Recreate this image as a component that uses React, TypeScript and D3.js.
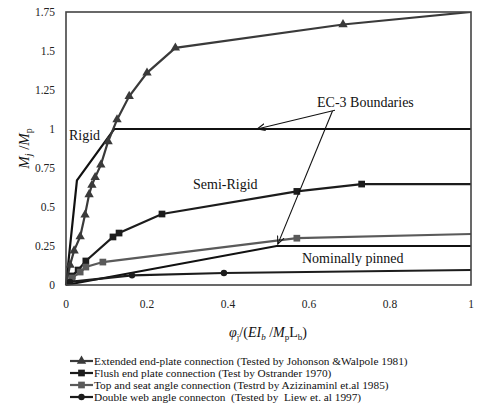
import * as d3 from 'd3'

// rotation phi_j / (EI_b / M_p L_b) and moment ratio M_j / M_p
const extendedPhi = [0, 0.01, 0.02, 0.035, 0.047, 0.057, 0.064, 0.072, 0.086, 0.104, 0.126, 0.156, 0.2, 0.27, 0.684, 1]
const extendedM = [0, 0.128, 0.22, 0.31, 0.45, 0.58, 0.64, 0.69, 0.77, 0.92, 1.06, 1.21, 1.36, 1.52, 1.67, 1.75]

const flushPhi = [0, 0.015, 0.03, 0.049, 0.116, 0.131, 0.237, 0.57, 0.73, 1]
const flushM = [0, 0.058, 0.096, 0.154, 0.308, 0.333, 0.455, 0.6, 0.647, 0.647]

const topSeatPhi = [0, 0.015, 0.035, 0.049, 0.091, 0.57, 1]
const topSeatM = [0, 0.045, 0.083, 0.115, 0.147, 0.3, 0.327]

const webPhi = [0, 0.01, 0.163, 0.39, 1]
const webM = [0, 0.02, 0.062, 0.077, 0.096]

const rigidPhi = [0, 0.027, 0.119, 1]
const rigidM = [0, 0.67, 1, 1]
const pinnedPhi = [0, 0.52, 1]
const pinnedM = [0, 0.25, 0.25]

const xTicks = [0, 0.2, 0.4, 0.6, 0.8, 1]
const yTicks = [0, 0.25, 0.5, 0.75, 1, 1.25, 1.5, 1.75]

const legendLabels = [
  'Extended end-plate connection (Tested by Johonson &Walpole 1981)',
  'Flush end plate connection (Test by Ostrander 1970)',
  'Top and seat angle connection (Testrd by Azizinaminl et.al 1985)',
  'Double web angle connecton  (Tested by  Liew et. al 1997)',
]

const W = 477
const H = 417
const x = d3.scaleLinear().domain([0, 1]).range([66, 471])
const y = d3.scaleLinear().domain([0, 1.75]).range([285, 12])

const tf = { fontFamily: '"Liberation Serif"', whiteSpace: 'pre' as const }

const series = [
  { phi: extendedPhi, m: extendedM, color: '#3a3a3a', marker: 'triangle' },
  { phi: flushPhi, m: flushM, color: '#1c1c1c', marker: 'square' },
  { phi: topSeatPhi, m: topSeatM, color: '#5a5a5a', marker: 'square' },
  { phi: webPhi, m: webM, color: '#1c1c1c', marker: 'circle' },
]

const toPts = (a: number[], b: number[]) => a.map((v, i) => [v, b[i]] as [number, number])
const line = d3.line<[number, number]>().x(d => x(d[0])).y(d => y(d[1]))

const symbolPath = (kind: string) => {
  const t = kind === 'triangle' ? d3.symbolTriangle : kind === 'square' ? d3.symbolSquare : d3.symbolCircle
  const size = kind === 'circle' ? 32 : kind === 'square' ? 45 : 38
  return d3.symbol().type(t).size(size)() as string
}

const Marker = ({ kind, cx, cy, color }: { kind: string; cx: number; cy: number; color: string }) => (
  <path d={symbolPath(kind)} transform={`translate(${cx},${cy})`} fill={color} />
)

export default function App() {
  return (
    <svg width={W} height={H} style={{ position: 'absolute', left: 0, top: 0, background: '#fff' }}>
      <defs>
        <marker id="arr" viewBox="0 0 10 10" refX="9" refY="5" markerWidth="8" markerHeight="8" orient="auto">
          <path d="M0,1 L9,5 L0,9" fill="none" stroke="#111" strokeWidth="1.2" />
        </marker>
        <clipPath id="plot">
          <rect x={x(0)} y={y(1.75)} width={x(1) - x(0)} height={y(0) - y(1.75)} />
        </clipPath>
      </defs>

      {/* EC-3 boundaries */}
      <path d={line(toPts(rigidPhi, rigidM)) as string} fill="none" stroke="#111" strokeWidth={2.2} />
      <path d={line(toPts(pinnedPhi, pinnedM)) as string} fill="none" stroke="#111" strokeWidth={2.2} />

      <g clipPath="url(#plot)">
        {series.map((s, i) => {
          const pts = toPts(s.phi, s.m)
          return (
            <g key={i}>
              <path d={line(pts) as string} fill="none" stroke={s.color} strokeWidth={2.2} />
              {pts.slice(0, -1).map((p, j) => (
                <Marker key={j} kind={s.marker} cx={x(p[0])} cy={y(p[1])} color={s.color} />
              ))}
            </g>
          )
        })}
      </g>

      {/* frame */}
      <rect x={x(0)} y={y(1.75)} width={x(1) - x(0)} height={y(0) - y(1.75)} fill="none" stroke="#444" strokeWidth={1.6} />

      {yTicks.map(t => (
        <text key={t} x={55} y={y(t) + 4} textAnchor="end" fontSize={11.5} fill="#222" style={tf}>
          {t}
        </text>
      ))}
      {xTicks.map(t => (
        <text key={t} x={x(t)} y={308} textAnchor="middle" fontSize={11.5} fill="#222" style={tf}>
          {t}
        </text>
      ))}

      {/* annotations */}
      <text x={69} y={140} fontSize={14} fill="#111" style={tf}>Rigid</text>
      <text x={317} y={107} fontSize={14} fill="#111" style={tf}>EC-3 Boundaries</text>
      <text x={193} y={189} fontSize={14} fill="#111" style={tf}>Semi-Rigid</text>
      <text x={302} y={263} fontSize={14} fill="#111" style={tf}>Nominally pinned</text>
      <line x1={x(0.664)} y1={y(1.12)} x2={x(0.472)} y2={y(1.0)} stroke="#111" strokeWidth={1.1} markerEnd="url(#arr)" />
      <line x1={x(0.658)} y1={y(1.115)} x2={x(0.523)} y2={y(0.262)} stroke="#111" strokeWidth={1.1} markerEnd="url(#arr)" />

      {/* axis titles */}
      <text x={268} y={337} textAnchor="middle" fontSize={14} fill="#111" style={tf}>
        <tspan fontStyle="italic">φ</tspan>
        <tspan fontSize={9} dy={3}>j</tspan>
        <tspan dy={-3}>/(</tspan>
        <tspan fontStyle="italic">EI</tspan>
        <tspan fontSize={9} fontStyle="italic" dy={3}>b</tspan>
        <tspan dy={-3}> /</tspan>
        <tspan fontStyle="italic">M</tspan>
        <tspan fontSize={9} dy={3}>p</tspan>
        <tspan dy={-3}>L</tspan>
        <tspan fontSize={9} dy={3}>b</tspan>
        <tspan dy={-3}>)</tspan>
      </text>
      <text transform={`translate(29,${(y(0) + y(1.75)) / 2}) rotate(-90)`} textAnchor="middle" fontSize={15} fontStyle="italic" fill="#111" style={tf}>
        M<tspan fontSize={10} dy={3}>j</tspan>
        <tspan dy={-3} fontStyle="normal"> /</tspan>
        <tspan>M</tspan>
        <tspan fontSize={10} fontStyle="normal" dy={3}>p</tspan>
      </text>

      {/* legend */}
      {legendLabels.map((label, i) => {
        const cy = 361 + i * 12
        const s = series[i]
        return (
          <g key={i}>
            <line x1={70} x2={93} y1={cy} y2={cy} stroke={s.color} strokeWidth={2.2} />
            <Marker kind={s.marker} cx={81.5} cy={cy} color={s.color} />
            <text x={94} y={cy + 4} fontSize={11.3} fill="#111" style={tf}>{label}</text>
          </g>
        )
      })}
    </svg>
  )
}
